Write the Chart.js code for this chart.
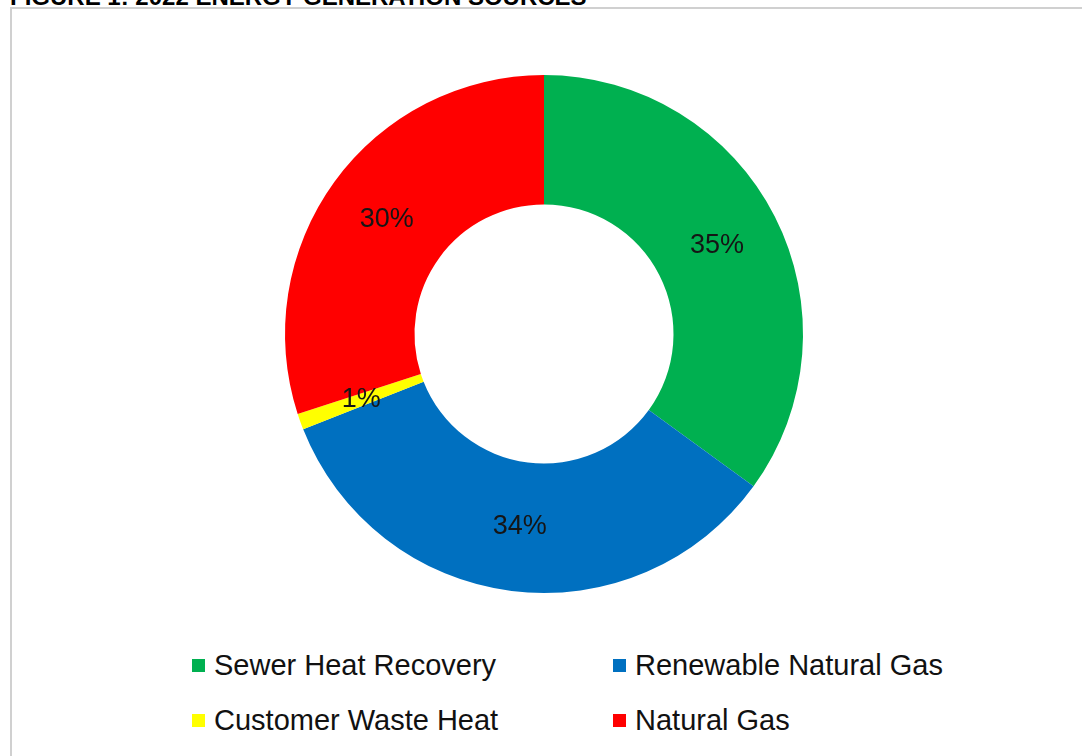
<!DOCTYPE html>
<html>
<head>
<meta charset="utf-8">
<script src="https://cdn.jsdelivr.net/npm/chart.js@4.4.1/dist/chart.umd.min.js"></script>
<style>
  body { margin: 0; width: 1082px; height: 756px; overflow: hidden; background: #fff; position: relative; font-family: Arial, "Liberation Sans", sans-serif; }
  #fig-title { position: absolute; left: 10px; top: -15px; font-size: 24px; line-height: 1; font-weight: bold; color: #000; white-space: nowrap; }
  #frame { position: absolute; left: 10px; top: 7px; width: 1100px; height: 800px; border: 2px solid #d0d0d0; box-sizing: border-box; }
  #chart-wrap { position: absolute; left: 0; top: 0; width: 1082px; height: 610px; }
  #legend { position: absolute; left: 192px; top: 638px; display: grid; grid-template-columns: 421px 421px; }
  .item { display: flex; align-items: center; height: 55px; font-size: 29px; line-height: 55px; color: #111; white-space: nowrap; }
  .swatch { width: 13px; height: 13px; margin-right: 9px; flex: none; }
</style>
</head>
<body>
<div id="fig-title">FIGURE 1: 2022 ENERGY GENERATION SOURCES</div>
<div id="frame"></div>
<div id="chart-wrap"><canvas id="donut" width="1082" height="610"></canvas></div>
<div id="legend"></div>

<script>
// 2022 energy generation sources (% of total)
const SOURCES = ["Sewer Heat Recovery", "Renewable Natural Gas", "Customer Waste Heat", "Natural Gas"];
const SHARES = [35, 34, 1, 30];
const SOURCE_COLORS = ["#00B050", "#0070C0", "#FFFF00", "#FF0000"];

// percentage text in the middle of each ring segment
const sliceLabels = {
  id: "sliceLabels",
  afterDatasetsDraw(chart) {
    const ctx = chart.ctx;
    const meta = chart.getDatasetMeta(0);
    ctx.save();
    ctx.font = '27px Arial, "Liberation Sans", sans-serif';
    ctx.fillStyle = "#151515";
    ctx.textAlign = "center";
    ctx.textBaseline = "middle";
    meta.data.forEach((arc, i) => {
      const p = arc.tooltipPosition();
      ctx.fillText(SHARES[i] + "%", p.x, p.y);
    });
    ctx.restore();
  },
};

new Chart(document.getElementById("donut").getContext("2d"), {
  type: "doughnut",
  data: {
    labels: SOURCES,
    datasets: [{
      data: SHARES,
      backgroundColor: SOURCE_COLORS,
      borderWidth: 0,
      hoverOffset: 0,
    }],
  },
  options: {
    responsive: false,
    animation: false,
    radius: 259,
    cutout: "50%",
    layout: { padding: { top: 75, bottom: 17, left: 6, right: 0 } },
    plugins: {
      legend: { display: false },
      tooltip: { enabled: false },
    },
  },
  plugins: [sliceLabels],
});

// two-column legend under the ring
document.getElementById("legend").innerHTML = SOURCES
  .map((s, i) => `<div class="item"><span class="swatch" style="background:${SOURCE_COLORS[i]}"></span>${s}</div>`)
  .join("");
</script>
</body>
</html>
